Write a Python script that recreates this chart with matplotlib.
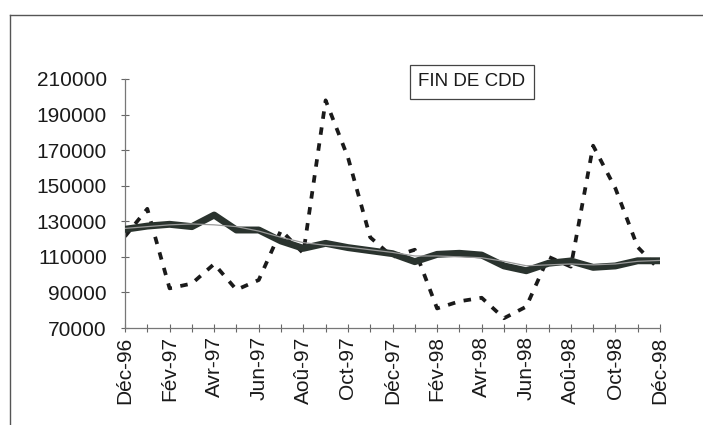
import matplotlib
matplotlib.use("Agg")
import matplotlib.pyplot as plt
from matplotlib.lines import Line2D

months = ["Déc-96", "Jan-97", "Fév-97", "Mar-97", "Avr-97", "Mai-97", "Jun-97",
          "Jul-97", "Aoû-97", "Sep-97", "Oct-97", "Nov-97", "Déc-97",
          "Jan-98", "Fév-98", "Mar-98", "Avr-98", "Mai-98", "Jun-98",
          "Jul-98", "Aoû-98", "Sep-98", "Oct-98", "Nov-98", "Déc-98"]

brut = [121500, 137000, 92300, 95000, 106000, 91500, 97000, 125000, 112000,
        198000, 166000, 121000, 110000, 114000, 81000, 85000, 87000, 75500,
        82000, 110000, 104500, 172500, 148500, 115500, 102500]

cvs = [125500, 127300, 128300, 127000, 133500, 125100, 125100, 118900, 114800,
       117600, 115200, 113500, 111800, 107300, 111400, 112000, 111000, 104900,
       102200, 106400, 107700, 104100, 104900, 107800, 107800]

tendance = [126000, 127000, 128000, 128500, 128000, 127000, 124500, 121000,
            118000, 116500, 115500, 114000, 112500, 110500, 110500, 110000,
            109500, 107500, 105000, 105500, 106000, 105500, 106000, 107500, 108000]

yticks = [70000, 90000, 110000, 130000, 150000, 170000, 190000, 210000]
title_box = "FIN DE CDD"

plt.rcParams['font.family'] = ['Liberation Sans', 'DejaVu Sans']

W, H = 703, 425
fig = plt.figure(figsize=(W / 100, H / 100), dpi=100)
ax = fig.add_axes([125 / W, 1 - 328 / H, (660 - 125) / W, (328 - 79) / H])

x = list(range(len(months)))
ax.plot(x, brut, linestyle=(0, (2.0, 2.3)), color='#1a1a1a', linewidth=2.7, zorder=2)
ax.plot(x, cvs, color='#2a332e', linewidth=5, solid_joinstyle='round', zorder=3)
ax.plot(x, tendance, color='#9a9a9a', linewidth=0.9, zorder=4)

ax.set_xlim(0, len(months) - 1)
ax.set_ylim(70000, 210000)
ax.set_yticks(yticks)
ax.set_yticklabels([str(v) for v in yticks], fontsize=15, color='#1a1a1a')
ax.set_xticks(x)
ax.set_xticklabels([m if i % 2 == 0 else "" for i, m in enumerate(months)],
                   rotation=90, fontsize=15, color='#1a1a1a')

for s in ['top', 'right']:
    ax.spines[s].set_visible(False)
for s in ['left', 'bottom']:
    ax.spines[s].set_color('#777777')
    ax.spines[s].set_linewidth(0.9)
ax.tick_params(axis='both', direction='inout', length=6, width=0.8, color='#666666')
ax.tick_params(axis='x', pad=3)
ax.tick_params(axis='y', pad=10)
for lbl in ax.get_xticklabels():
    lbl.set_verticalalignment('top')

ax.text(472 / W, 1 - 82 / H, title_box, transform=fig.transFigure,
        ha='center', va='center', fontsize=13.5, color='#1a1a1a',
        bbox=dict(boxstyle='square,pad=0.45', facecolor='white',
                  edgecolor='#444444', linewidth=0.9))

# outer frame (top and left)
fig.add_artist(Line2D([10 / W, 1], [1 - 15 / H, 1 - 15 / H], transform=fig.transFigure,
                      color='#555555', linewidth=1.0))
fig.add_artist(Line2D([10 / W, 10 / W], [0, 1 - 15 / H], transform=fig.transFigure,
                      color='#555555', linewidth=1.0))

fig.savefig("out.png", dpi=100)
